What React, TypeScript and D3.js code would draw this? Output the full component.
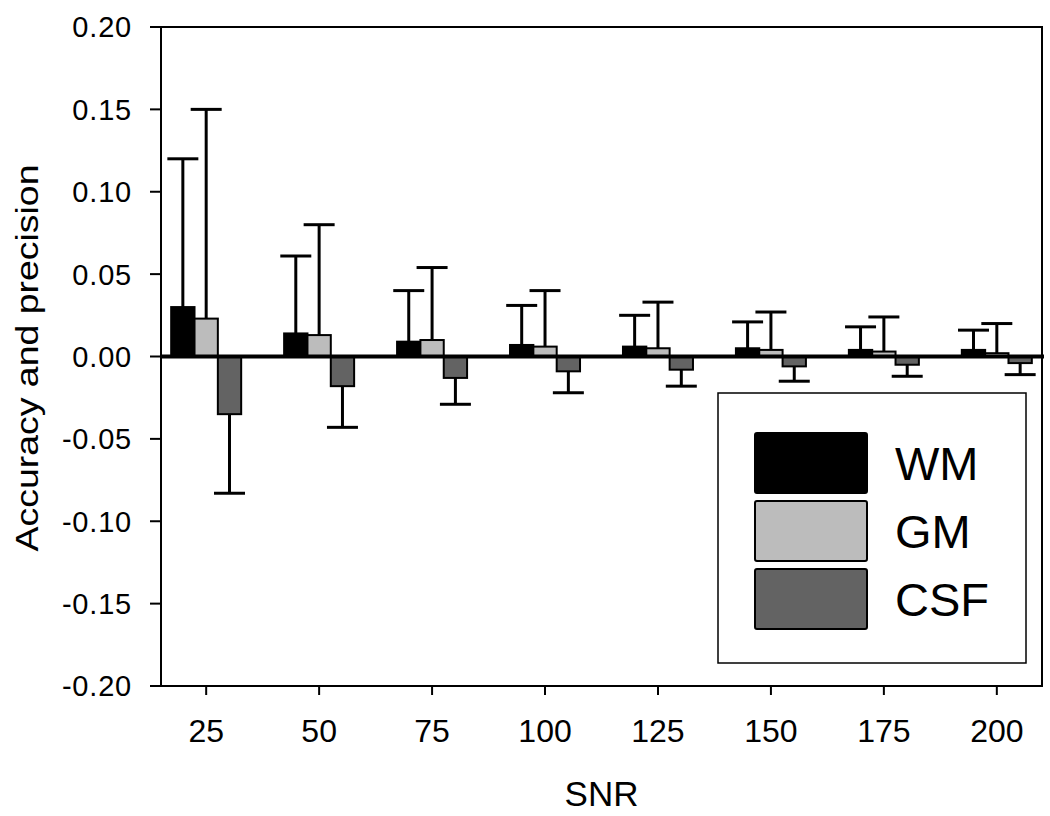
import * as d3 from 'd3';

// SNR categories and the three tissue series (mean bias + one-sided SD bar)
const snrLabels = ['25', '50', '75', '100', '125', '150', '175', '200'];
const seriesNames = ['WM', 'GM', 'CSF'];
const seriesColors = ['#000000', '#bcbcbc', '#636363'];

const wmMean = [0.030, 0.014, 0.009, 0.007, 0.006, 0.005, 0.004, 0.004];
const wmSd = [0.090, 0.047, 0.031, 0.024, 0.019, 0.016, 0.014, 0.012];
const gmMean = [0.023, 0.013, 0.010, 0.006, 0.005, 0.004, 0.003, 0.002];
const gmSd = [0.127, 0.067, 0.044, 0.034, 0.028, 0.023, 0.021, 0.018];
const csfMean = [-0.035, -0.018, -0.013, -0.009, -0.008, -0.006, -0.005, -0.004];
const csfSd = [0.048, 0.025, 0.016, 0.013, 0.010, 0.009, 0.007, 0.007];

const yTicks = [-0.2, -0.15, -0.1, -0.05, 0, 0.05, 0.1, 0.15, 0.2];

const means = [wmMean, gmMean, csfMean];
const sds = [wmSd, gmSd, csfSd];

const font = '"Liberation Sans", Arial, sans-serif';

export default function App() {
  const width = 1050;
  const height = 816;
  const margin = { top: 27, right: 8, bottom: 130, left: 161 };
  const x0 = margin.left;
  const x1 = width - margin.right;
  const yTop = margin.top;
  const yBottom = height - margin.bottom;

  const x = d3.scalePoint<string>().domain(snrLabels).range([x0, x1]).padding(0.4);
  const sub = d3.scaleBand<string>().domain(seriesNames).range([-35, 35]);
  const y = d3.scaleLinear().domain([-0.2, 0.2]).range([yBottom, yTop]);

  const fmt = (v: number) => (v < 0 ? '-' : '') + Math.abs(v).toFixed(2);
  const capW = 31;

  // legend layout
  const lg = { x: 718, y: 393, w: 308, h: 270 };
  const sw = { x: 755, w: 112, h: 60, y0: 433, step: 68 };

  return (
    <svg width={width} height={height} style={{ position: 'absolute', left: 0, top: 0, background: '#fff' }}>
      {/* bars */}
      {seriesNames.map((s, si) =>
        snrLabels.map((c, ci) => {
          const v = means[si][ci];
          const bx = (x(c) as number) + (sub(s) as number);
          return (
            <rect
              key={s + c}
              x={bx}
              y={y(Math.max(0, v))}
              width={sub.bandwidth()}
              height={Math.abs(y(v) - y(0))}
              fill={seriesColors[si]}
              stroke="#000"
              strokeWidth={2}
            />
          );
        })
      )}
      {/* error bars (one-sided, away from zero) */}
      {seriesNames.map((s, si) =>
        snrLabels.map((c, ci) => {
          const v = means[si][ci];
          const e = v >= 0 ? v + sds[si][ci] : v - sds[si][ci];
          const cx = (x(c) as number) + (sub(s) as number) + sub.bandwidth() / 2;
          return (
            <g key={'e' + s + c} stroke="#000" strokeWidth={3}>
              <line x1={cx} x2={cx} y1={y(v)} y2={y(e)} />
              <line x1={cx - capW / 2} x2={cx + capW / 2} y1={y(e)} y2={y(e)} />
            </g>
          );
        })
      )}
      {/* zero line */}
      <line x1={x0} x2={x1 + 2} y1={y(0)} y2={y(0)} stroke="#000" strokeWidth={4} />

      {/* frame */}
      <rect x={x0} y={yTop} width={x1 - x0} height={yBottom - yTop} fill="none" stroke="#000" strokeWidth={2} />

      {/* y axis ticks + labels */}
      {yTicks.map((t) => (
        <g key={'y' + t}>
          <line x1={x0 - 11} x2={x0} y1={y(t)} y2={y(t)} stroke="#000" strokeWidth={2} />
          <text
            x={x0 - 29}
            y={y(t)}
            dy="0.36em"
            textAnchor="end"
            fontFamily={font}
            fontSize={29}
            letterSpacing={0.8}
            fill="#000"
          >
            {fmt(t)}
          </text>
        </g>
      ))}

      {/* x axis ticks + labels */}
      {snrLabels.map((c) => (
        <g key={'x' + c}>
          <line x1={x(c)} x2={x(c)} y1={yBottom} y2={yBottom + 9} stroke="#000" strokeWidth={2} />
          <text x={x(c)} y={yBottom + 56} textAnchor="middle" fontFamily={font} fontSize={32} fill="#000">
            {c}
          </text>
        </g>
      ))}

      {/* axis titles */}
      <text x={(x0 + x1) / 2} y={806} textAnchor="middle" fontFamily={font} fontSize={35} fill="#000">
        SNR
      </text>
      <text
        transform="translate(38,358) rotate(-90)"
        textAnchor="middle"
        fontFamily={font}
        fontSize={32}
        textLength={387}
        lengthAdjust="spacingAndGlyphs"
        fill="#000"
      >
        Accuracy and precision
      </text>

      {/* legend */}
      <rect x={lg.x} y={lg.y} width={lg.w} height={lg.h} fill="#fff" stroke="#000" strokeWidth={1.5} />
      {seriesNames.map((s, i) => (
        <g key={'l' + s}>
          <rect
            x={sw.x}
            y={sw.y0 + i * sw.step}
            width={sw.w}
            height={sw.h}
            rx={2}
            fill={seriesColors[i]}
            stroke="#000"
            strokeWidth={2}
          />
          <text
            x={895}
            y={sw.y0 + i * sw.step + sw.h / 2 + 17}
            fontFamily={font}
            fontSize={47}
            fill="#000"
          >
            {s}
          </text>
        </g>
      ))}
    </svg>
  );
}
